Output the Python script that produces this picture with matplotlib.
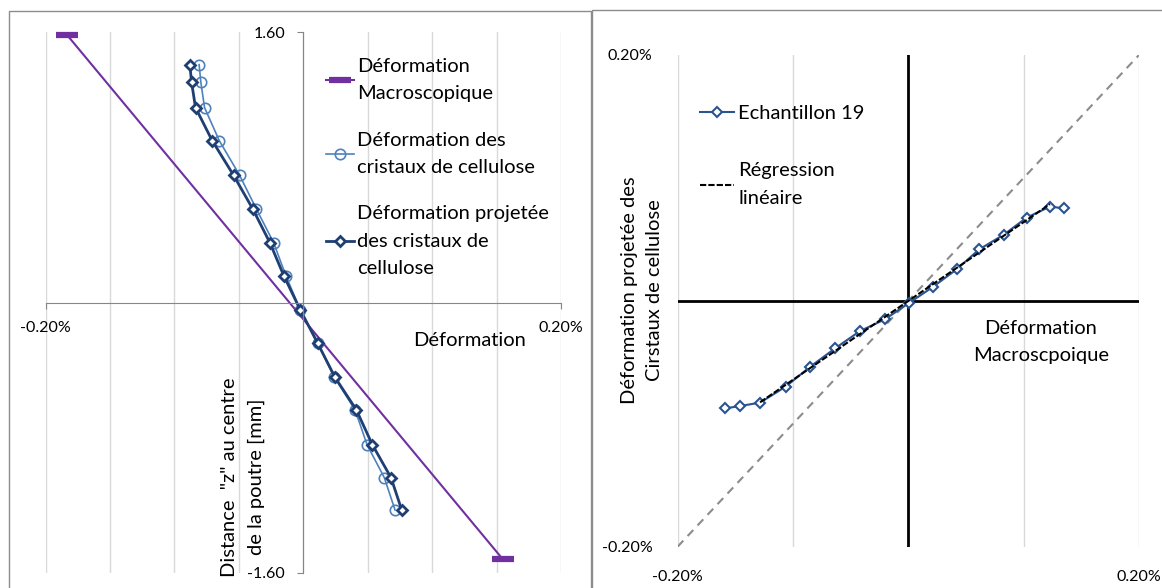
import numpy as np
import matplotlib
matplotlib.use('Agg')
import matplotlib.pyplot as plt
from matplotlib.patches import Rectangle

plt.rcParams['font.family'] = ['Lato', 'DejaVu Sans']

# ---- left panel data: strain profile across the beam ----
z_points = [1.407, 1.305, 1.153, 0.958, 0.753, 0.555, 0.354, 0.157,
            -0.044, -0.241, -0.442, -0.635, -0.841, -1.036, -1.227]
eps_cristaux = [-0.0808, -0.0795, -0.0766, -0.0652, -0.0494, -0.0365, -0.0230, -0.0134,
                -0.0023, 0.0112, 0.0241, 0.0402, 0.0495, 0.0629, 0.0712]
eps_projetee = [-0.0880, -0.0867, -0.0836, -0.0707, -0.0541, -0.0393, -0.0259, -0.0150,
                -0.0023, 0.0112, 0.0246, 0.0412, 0.0536, 0.0681, 0.0764]
z_macro = [1.58, -1.52]
eps_macro = [-0.183, 0.155]

left_xticks = [-0.2, 0.2]
left_xticklabels = ['-0.20%', '0.20%']
left_yticks = [-1.6, 1.6]
left_yticklabels = ['-1.60', '1.60']

# ---- right panel data: projected vs macroscopic strain ----
x_macro = [-0.1589, -0.1462, -0.1285, -0.1063, -0.0849, -0.0634, -0.0419, -0.0204,
           0.0002, 0.0211, 0.0419, 0.0615, 0.0829, 0.1026, 0.1228, 0.1346]
y_proj = [-0.0875, -0.0856, -0.0828, -0.0698, -0.0535, -0.0386, -0.0246, -0.0151,
          -0.0020, 0.0112, 0.0256, 0.0419, 0.0539, 0.0677, 0.0767, 0.0753]
diag = [-0.2, 0.2]
right_ticks = [-0.2, 0.2]
right_ticklabels = ['-0.20%', '0.20%']

W, H = 1162, 588
FS = 14.5      # text size
TS = 11.5      # tick label size
LS = 1.75      # line spacing of multi-line texts

fig = plt.figure(figsize=(W / 100, H / 100), dpi=100)

# chart frames (Excel chart area borders)
fig.patches.append(Rectangle((9 / W, -0.05), 582 / W, 1.05 - 11 / H, transform=fig.transFigure,
                             fill=False, edgecolor='#8c8c8c', lw=1))
fig.patches.append(Rectangle((592 / W, -0.05), 0.6, 1.05 - 10 / H, transform=fig.transFigure,
                             fill=False, edgecolor='#8c8c8c', lw=1))

# ================= left panel =================
ax1 = fig.add_axes([45.5 / W, (H - 573) / H, 515.5 / W, 541 / H])
ax1.set_xlim(-0.2, 0.2)
ax1.set_ylim(-1.6, 1.6)
for s in ['top', 'right']:
    ax1.spines[s].set_visible(False)
for s in ['left', 'bottom']:
    ax1.spines[s].set_position(('data', 0))
    ax1.spines[s].set_color('#868686')
ax1.set_xticks(left_xticks)
ax1.set_xticklabels(left_xticklabels)
ax1.set_xticks(np.arange(-0.15, 0.16, 0.05), minor=True)
ax1.set_yticks(left_yticks)
ax1.set_yticklabels(left_yticklabels)
ax1.tick_params(which='major', length=4, color='#868686', labelsize=TS, pad=9)
ax1.tick_params(which='minor', length=0)
ax1.grid(True, axis='x', which='both', color='#d9d9d9', lw=1)
ax1.set_axisbelow(True)

ax1.plot(eps_macro, z_macro, color='#7030A0', lw=1.5, marker='_', ms=16, mew=4.5,
         label='Déformation\nMacroscopique', clip_on=False)
ax1.plot(eps_cristaux, z_points, color='#4F81BD', lw=1.2, marker='o', ms=7.5,
         mfc='none', mec='#4F81BD', mew=1.2, label='Déformation des\ncristaux de cellulose')
ax1.plot(eps_projetee, z_points, color='#1F3F73', lw=2, marker='D', ms=5,
         mfc='white', mec='#1F3F73', mew=2, label='Déformation projetée\ndes cristaux de\ncellulose')

leg1 = ax1.legend(loc='upper left', bbox_to_anchor=(326 / W, (H - 58) / H),
                  bbox_transform=fig.transFigure, frameon=False, fontsize=FS,
                  handlelength=1.4, handletextpad=0.15, labelspacing=1.45,
                  borderpad=0, borderaxespad=0)
for t in leg1.get_texts():
    t.set_linespacing(LS)

fig.text(470 / W, (H - 341) / H, 'Déformation', ha='center', va='center', fontsize=FS)
# y axis title, two lines drawn separately so they sit clear of the "-1.60" label
fig.text(230 / W, (H - 477) / H, 'Distance  "z" au centre', rotation=90,
         ha='center', va='center', fontsize=FS)
fig.text(256.5 / W, (H - 477) / H, 'de la poutre [mm]', rotation=90,
         ha='center', va='center', fontsize=FS)

# ================= right panel =================
ax2 = fig.add_axes([677.6 / W, (H - 546.7) / H, 461.4 / W, 491.7 / H])
ax2.set_xlim(-0.2, 0.2)
ax2.set_ylim(-0.2, 0.2)
for s in ax2.spines.values():
    s.set_visible(False)
ax2.set_xticks(right_ticks)
ax2.set_xticklabels(right_ticklabels)
ax2.set_yticks(right_ticks)
ax2.set_yticklabels(right_ticklabels)
ax2.set_xticks([-0.1, 0.1], minor=True)
ax2.tick_params(which='both', length=0, labelsize=TS)
ax2.tick_params(axis='y', pad=18)
ax2.tick_params(axis='x', pad=17)
ax2.grid(True, axis='x', which='both', color='#d9d9d9', lw=1)
ax2.set_axisbelow(True)

ax2.axhline(0, color='black', lw=2)
ax2.axvline(0, color='black', lw=2)
ax2.plot(diag, diag, color='#8c8c8c', lw=1.5, dashes=(4, 3))

ax2.plot(x_macro, y_proj, color='#2A5490', lw=1.5, marker='D', ms=5.5,
         mfc='white', mec='#2A5490', mew=1.5, label='Echantillon 19', zorder=3)

# linear regression on the central points
fit_x = np.array(x_macro[2:15])
fit_y = np.array(y_proj[2:15])
slope, intercept = np.polyfit(fit_x, fit_y, 1)
reg_x = np.array([fit_x.min(), fit_x.max()])
ax2.plot(reg_x, slope * reg_x + intercept, color='black', lw=1.5, dashes=(3, 1),
         label='Régression\nlinéaire', zorder=4)

leg2 = ax2.legend(loc='upper left', bbox_to_anchor=(700 / W, (H - 105) / H),
                  bbox_transform=fig.transFigure, frameon=False, fontsize=FS,
                  handlelength=1.7, handletextpad=0.2, labelspacing=2.0,
                  borderpad=0, borderaxespad=0)
for t in leg2.get_texts():
    t.set_linespacing(LS)

fig.text(1041 / W, (H - 342) / H, 'Déformation\nMacroscpoique', ha='center', va='center',
         fontsize=FS, linespacing=LS)
fig.text(642 / W, (H - 290) / H, 'Déformation projetée des\nCirstaux de cellulose', rotation=90,
         ha='center', va='center', fontsize=FS, multialignment='center', linespacing=1.6)

fig.savefig('out.png', dpi=100)
